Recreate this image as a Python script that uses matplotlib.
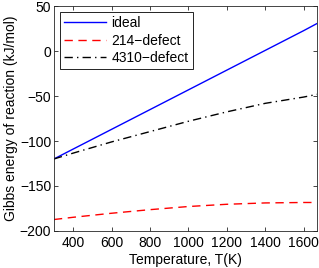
import numpy as np
import matplotlib.pyplot as plt

plt.rcParams['font.family'] = ['Liberation Sans', 'DejaVu Sans']

# --- Data ---
temp = [300, 400, 600, 800, 1000, 1200, 1400, 1600, 1670]
g_ideal = [-120, -109, -87, -65, -43, -21, 1, 23, 31]
g_214 = [-187.5, -185, -180.5, -176.5, -173, -170.5, -169, -168.5, -168.5]
g_4310 = [-120, -113.5, -101, -89.5, -78, -67.5, -58, -51, -48]

x_ticks = [400, 600, 800, 1000, 1200, 1400, 1600]
y_ticks = [-200, -150, -100, -50, 0, 50]

# --- Plotting ---
fig = plt.figure(figsize=(3.19, 2.68), dpi=100)
ax = fig.add_axes([0.169, 0.139, 0.825, 0.837])

ax.plot(temp, g_ideal, color='#0000ff', linewidth=1.0, label='ideal')
ax.plot(temp, g_214, color='#ff0000', linewidth=1.0, linestyle=(0, (6, 4)), label='214\u2212defect')
ax.plot(temp, g_4310, color='black', linewidth=1.0, linestyle=(0, (6, 3, 1, 3)), label='4310\u2212defect')

# --- Aesthetics ---
ax.set_xlim(300, 1670)
ax.set_ylim(-200, 50)
ax.set_xticks(x_ticks)
ax.set_yticks(y_ticks)
ax.set_yticklabels([str(v).replace('-', '\u2212') for v in y_ticks])
ax.tick_params(direction='in', top=True, right=True, length=3, width=0.6,
               labelsize=10, pad=4, colors='#262626')
ax.tick_params(labelcolor='black')
ax.tick_params(axis='y', pad=2)
for sp in ax.spines.values():
    sp.set_linewidth(0.6)
    sp.set_color('#262626')

ax.set_xlabel('Temperature, T(K)', fontsize=10, labelpad=2)
ax.set_ylabel('Gibbs energy of reaction (kJ/mol)', fontsize=10, labelpad=1)

leg = ax.legend(loc='upper left', bbox_to_anchor=(0.023, 0.975), borderaxespad=0,
                fontsize=10, handlelength=3.0, handletextpad=0.4, labelspacing=0.25,
                borderpad=0.3, fancybox=False, framealpha=1)
leg.get_frame().set_edgecolor('black')
leg.get_frame().set_linewidth(0.6)

fig.savefig('out.png', dpi=100)
